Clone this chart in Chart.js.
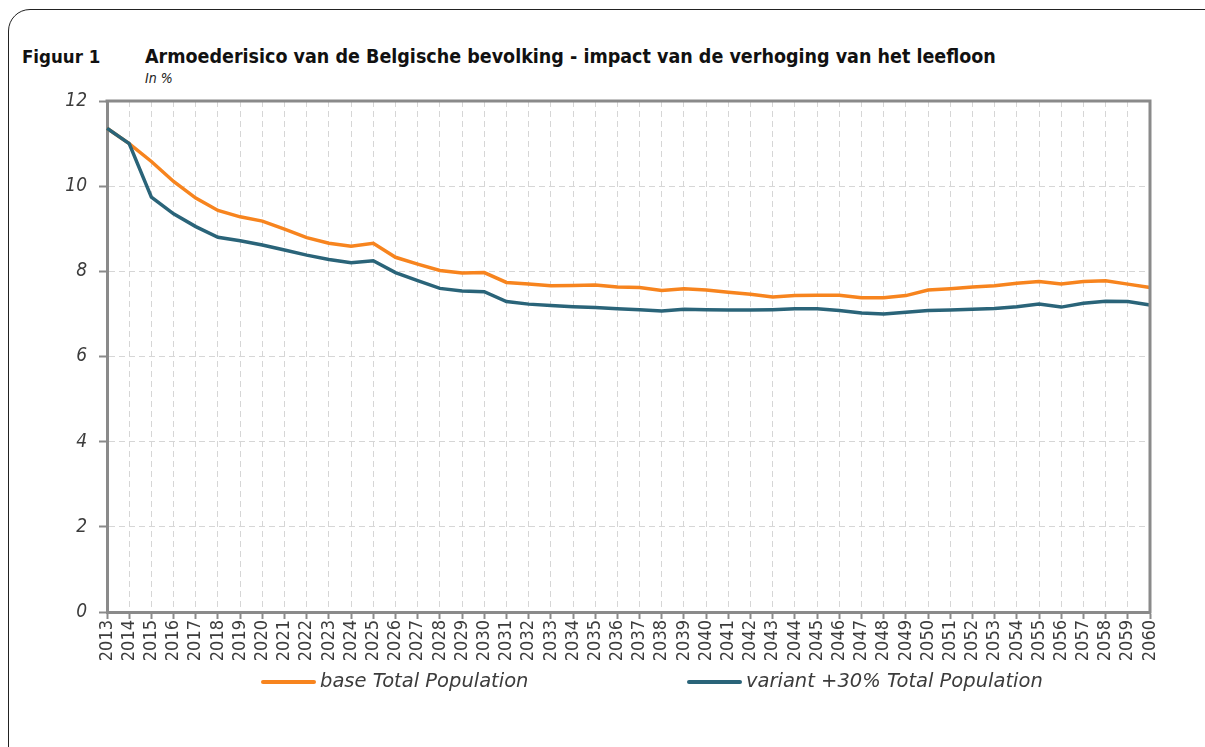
<!DOCTYPE html>
<html>
<head>
<meta charset="utf-8">
<script src="https://cdn.jsdelivr.net/npm/chart.js@4/dist/chart.umd.min.js"></script>
<style>
    html, body { margin: 0; padding: 0; background: #fff; }
    body { width: 1205px; height: 747px; position: relative; overflow: hidden; font-family: "DejaVu Sans Condensed", "DejaVu Sans", sans-serif; }
    .card { position: absolute; left: 8px; top: 9px; width: 1300px; height: 800px; border: 1px solid #222; border-radius: 22px; box-sizing: border-box; }
    .fig { position: absolute; left: 22px; top: 46px; font-weight: bold; font-size: 18.5px; color: #111; }
    .title { position: absolute; left: 145px; top: 45px; font-weight: bold; font-size: 19.5px; color: #111; white-space: nowrap; }
    .unit { position: absolute; left: 145px; top: 70px; font-style: italic; font-size: 14px; color: #222; }
    canvas { position: absolute; left: 0; top: 0; }
</style>
</head>
<body>
<div class="card"></div>
<div class="fig">Figuur 1</div>
<div class="title">Armoederisico van de Belgische bevolking - impact van de verhoging van het leefloon</div>
<div class="unit">In %</div>
<canvas id="chart" width="1205" height="747"></canvas>
<script>
// Years on the x axis
const years = [];
for (let y = 2013; y <= 2060; y++) years.push(String(y));

// base scenario
const baseTotal = [
    11.36, 11.00, 10.58, 10.11, 9.72, 9.43, 9.28, 9.18,
    8.99, 8.79, 8.66, 8.59, 8.66, 8.33, 8.17, 8.02, 7.96, 7.97,
    7.74, 7.70, 7.66, 7.67, 7.68, 7.63, 7.62, 7.55, 7.59, 7.56,
    7.51, 7.46, 7.40, 7.43, 7.44, 7.44, 7.38, 7.38, 7.43, 7.56,
    7.59, 7.63, 7.66, 7.72, 7.76, 7.70, 7.76, 7.78, 7.70, 7.62
];

// variant +30% leefloon
const variantTotal = [
    11.36, 11.00, 9.74, 9.35, 9.05, 8.80, 8.72, 8.62,
    8.50, 8.38, 8.28, 8.20, 8.25, 7.97, 7.78, 7.60, 7.54, 7.52,
    7.29, 7.23, 7.20, 7.17, 7.15, 7.12, 7.10, 7.07, 7.11, 7.10,
    7.09, 7.09, 7.10, 7.12, 7.12, 7.08, 7.02, 7.00, 7.04, 7.08,
    7.09, 7.11, 7.13, 7.17, 7.23, 7.16, 7.25, 7.30, 7.29, 7.21
];

const seriesLabels = ['base Total Population', 'variant +30% Total Population'];
const seriesColors = ['#f7841e', '#2a6479'];

const FONT = '"DejaVu Sans Condensed", "DejaVu Sans", sans-serif';
const AXIS_COLOR = '#8a8a8a';
const GRID_COLOR = '#d6d6d6';
const TEXT_COLOR = '#3c3c3c';

// top/right frame lines + legend drawn under the axis labels
const frameAndLegend = {
    id: 'frameAndLegend',
    afterDraw(chart) {
        const { ctx, chartArea: a } = chart;
        ctx.save();
        ctx.strokeStyle = AXIS_COLOR;
        ctx.lineWidth = 3;
        ctx.beginPath();
        ctx.moveTo(a.left - 1.5, a.top);
        ctx.lineTo(a.right, a.top);
        ctx.lineTo(a.right, a.bottom + 1.5);
        ctx.stroke();

        ctx.font = 'italic 19.5px "DejaVu Sans", sans-serif';
        ctx.textBaseline = 'middle';
        ctx.lineCap = 'round';
        const y = a.bottom + 70;
        const starts = [a.left + 156, a.left + 582];
        chart.data.datasets.forEach((ds, i) => {
            const x = starts[i];
            ctx.strokeStyle = ds.borderColor;
            ctx.lineWidth = 4;
            ctx.beginPath();
            ctx.moveTo(x, y);
            ctx.lineTo(x + 51, y);
            ctx.stroke();
            ctx.fillStyle = TEXT_COLOR;
            ctx.fillText(ds.label, x + 57, y);
        });
        ctx.restore();
    }
};

new Chart(document.getElementById('chart').getContext('2d'), {
    type: 'line',
    data: {
        labels: years,
        datasets: [
            {
                label: seriesLabels[0],
                data: baseTotal,
                borderColor: seriesColors[0],
                backgroundColor: seriesColors[0],
                borderWidth: 3.5,
                pointRadius: 0,
                tension: 0,
                order: 1
            },
            {
                label: seriesLabels[1],
                data: variantTotal,
                borderColor: seriesColors[1],
                backgroundColor: seriesColors[1],
                borderWidth: 3.5,
                pointRadius: 0,
                tension: 0,
                order: 0
            }
        ]
    },
    options: {
        responsive: false,
        animation: false,
        devicePixelRatio: 1,
        layout: { padding: { top: 101, right: 55, left: 0, bottom: 0 } },
        plugins: {
            legend: { display: false },
            title: { display: false },
            tooltip: { enabled: false }
        },
        scales: {
            x: {
                offset: false,
                afterFit: (scale) => { scale.height = 135; },
                grid: {
                    color: GRID_COLOR,
                    lineWidth: 1,
                    tickColor: AXIS_COLOR,
                    tickBorderDash: [],
                    tickLength: 7,
                    tickWidth: 2
                },
                border: { color: AXIS_COLOR, width: 3, dash: [6, 4] },
                ticks: {
                    autoSkip: false,
                    maxRotation: 90,
                    minRotation: 90,
                    padding: 1,
                    color: TEXT_COLOR,
                    font: { family: FONT, size: 18 }
                }
            },
            y: {
                min: 0,
                max: 12,
                afterFit: (scale) => { scale.width = 107; },
                grid: {
                    color: GRID_COLOR,
                    lineWidth: 1,
                    tickColor: AXIS_COLOR,
                    tickBorderDash: [],
                    tickLength: 8,
                    tickWidth: 2
                },
                border: { color: AXIS_COLOR, width: 3, dash: [6, 4] },
                ticks: {
                    stepSize: 2,
                    padding: 12,
                    color: TEXT_COLOR,
                    font: { family: FONT, size: 19, style: 'italic' }
                }
            }
        }
    },
    plugins: [frameAndLegend]
});
</script>
</body>
</html>
